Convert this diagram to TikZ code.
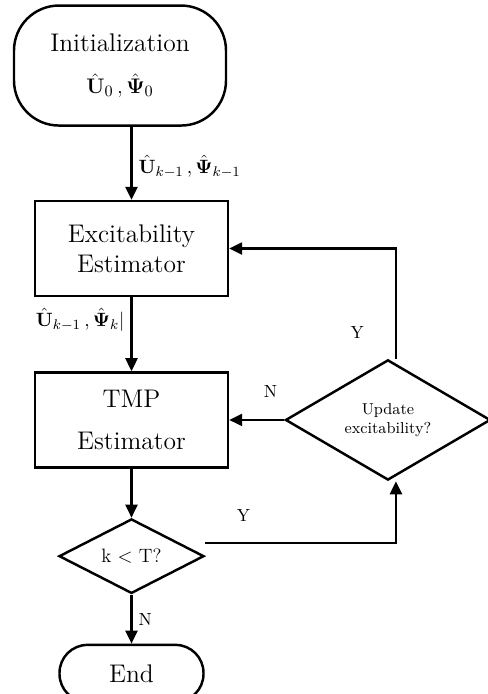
\documentclass[tikz,border=0pt]{standalone}
\usepackage{amsmath, amssymb}
\usepackage{bm}
\usetikzlibrary{positioning, shapes.geometric, arrows.meta}

\begin{document}
\begin{tikzpicture}[
    term/.style={draw, line width=1.4pt, rounded corners=0.9cm, align=center,
      font=\fontsize{14.5}{17}\selectfont},
    proc/.style={draw, line width=1.4pt, minimum width=3.86cm, minimum height=1.9cm,
      align=center, font=\fontsize{14.5}{17}\selectfont},
    decide/.style={draw, diamond, line width=1.4pt, inner sep=0pt, align=center},
    flow/.style={line width=1.4pt, -{Triangle[length=0.26cm, width=0.24cm]}},
    lbl/.style={font=\fontsize{10}{12}\selectfont},
  ]
      \useasboundingbox (0,0) rectangle (9.76,-13.88);
      \node[proc] (exc) at (2.63,-4.97) {Excitability\\Estimator};
      \node[term, minimum width=4.24cm, minimum height=2.4cm, above=1.46cm of exc, xshift=-0.23cm] (init)
        {Initialization\\[7pt] {\fontsize{12.5}{14}\selectfont $\hat{\mathbf{U}}_0\,,\hat{\bm{\Psi}}_0$}};
      \node[proc, below=1.48cm of exc, font=\fontsize{14.5}{24}\selectfont] (tmp) {TMP\\Estimator};
      \node[decide, minimum width=2.9cm, minimum height=1.42cm, below=0.98cm of tmp,
        font=\fontsize{11}{13}\selectfont] (kT) {k $<$ T?};
      \node[term, rounded corners=0.56cm, minimum width=2.88cm, minimum height=1.14cm,
        below=0.98cm of kT] (end) {End};
      \node[decide, minimum width=4.1cm, minimum height=1.9cm, right=1.1cm of tmp,
        font=\fontsize{9}{11}\selectfont] (upd) {Update\\excitability?};
      % main flow
      \draw[flow] (exc.north |- init.south) -- node[right, pos=0.55, font=\fontsize{11}{13}\selectfont]
        {$\hat{\mathbf{U}}_{k-1}\,,\hat{\bm{\Psi}}_{k-1}$} (exc.north);
      \draw[flow] (exc.south) -- node[left, pos=0.3, font=\fontsize{11}{13}\selectfont]
        {$\hat{\mathbf{U}}_{k-1}\,,\hat{\bm{\Psi}}_{k}|$} (tmp.north);
      \draw[flow] (tmp.south) -- (kT.north);
      \draw[flow] (kT.south) -- node[right, lbl] {N} (end.north);
      % loops
      \draw[flow] ([yshift=0.26cm]kT.east) -| node[above=0.3cm, pos=0.1, lbl] {Y} ([xshift=0.16cm]upd.south);
      \draw[flow] ([xshift=0.16cm]upd.north) |- node[left=0.5cm, pos=0.12, lbl] {Y} (exc.east);
      \draw[flow] (upd.west) -- node[above=0.3cm, pos=0.25, lbl] {N} (tmp.east);
\end{tikzpicture}
\end{document}
